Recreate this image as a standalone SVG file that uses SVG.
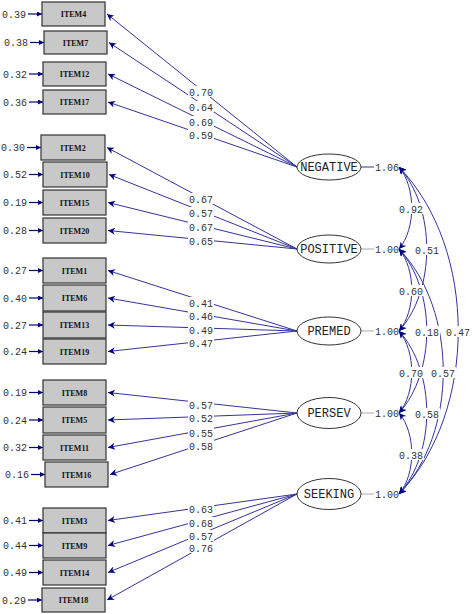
<svg xmlns="http://www.w3.org/2000/svg" width="472" height="614" viewBox="0 0 472 614">
<style>
.box{fill:#c8c8c8;stroke:#333;stroke-width:1.2}
.bt{font-family:"Liberation Serif",serif;font-size:8px;font-weight:bold;fill:#111;text-anchor:middle}
.num{font-family:"Liberation Mono",monospace;font-size:10px;fill:#333}
.lab{font-family:"Liberation Mono",monospace;font-size:10px;fill:#333;text-anchor:middle}
.fac{fill:#fff;stroke:#333;stroke-width:1}
.ft{font-family:"Liberation Mono",monospace;font-size:12px;fill:#222;text-anchor:middle}
.ln{stroke:#33339a;stroke-width:1;fill:none}
.err{stroke:#000080;stroke-width:1.2;fill:none}
.var{stroke:#aaa;stroke-width:1;fill:none}
.bg{fill:#fff}
</style>
<defs>
<marker id="ah" viewBox="0 0 10 10" refX="10" refY="5" markerWidth="9" markerHeight="7" markerUnits="userSpaceOnUse" orient="auto-start-reverse"><path d="M0,0 L10,5 L0,10 L3,5 z" fill="#000080"/></marker>
<marker id="eh" viewBox="0 0 10 10" refX="10" refY="5" markerWidth="7" markerHeight="5" markerUnits="userSpaceOnUse" orient="auto"><path d="M0,0 L10,5 L0,10 z" fill="#000080"/></marker>
</defs>
<g id="connectors">
<path class="ln" marker-end="url(#ah)" d="M297 167 L107 14"/>
<path class="ln" marker-end="url(#ah)" d="M297 167 L109 42.5"/>
<path class="ln" marker-end="url(#ah)" d="M297 167 L108 74"/>
<path class="ln" marker-end="url(#ah)" d="M297 167 L108 102"/>
<path class="ln" marker-end="url(#ah)" d="M297 249 L107 147.5"/>
<path class="ln" marker-end="url(#ah)" d="M297 249 L109 174.5"/>
<path class="ln" marker-end="url(#ah)" d="M297 249 L108 202.5"/>
<path class="ln" marker-end="url(#ah)" d="M297 249 L108 230.5"/>
<path class="ln" marker-end="url(#ah)" d="M297 331 L108 270.5"/>
<path class="ln" marker-end="url(#ah)" d="M297 331 L108 298"/>
<path class="ln" marker-end="url(#ah)" d="M297 331 L108 325"/>
<path class="ln" marker-end="url(#ah)" d="M297 331 L108 351.5"/>
<path class="ln" marker-end="url(#ah)" d="M297 413 L108 392.5"/>
<path class="ln" marker-end="url(#ah)" d="M297 413 L108 420"/>
<path class="ln" marker-end="url(#ah)" d="M297 413 L108 447.5"/>
<path class="ln" marker-end="url(#ah)" d="M297 413 L110 474.5"/>
<path class="ln" marker-end="url(#ah)" d="M297 494 L108 520.5"/>
<path class="ln" marker-end="url(#ah)" d="M297 494 L108 545.5"/>
<path class="ln" marker-end="url(#ah)" d="M297 494 L108 572.5"/>
<path class="ln" marker-end="url(#ah)" d="M297 494 L107 600"/>
<g id="loading-labels">
<rect class="bg" x="188" y="86" width="26" height="11"/><text class="lab" x="201" y="95.5">0.70</text>
<rect class="bg" x="188" y="101" width="26" height="11"/><text class="lab" x="201" y="110.5">0.64</text>
<rect class="bg" x="188" y="116" width="26" height="11"/><text class="lab" x="201" y="125.5">0.69</text>
<rect class="bg" x="188" y="129" width="26" height="11"/><text class="lab" x="201" y="138.5">0.59</text>
<rect class="bg" x="188" y="193" width="26" height="11"/><text class="lab" x="201" y="202.5">0.67</text>
<rect class="bg" x="188" y="207" width="26" height="11"/><text class="lab" x="201" y="216.5">0.57</text>
<rect class="bg" x="188" y="221" width="26" height="11"/><text class="lab" x="201" y="230.5">0.67</text>
<rect class="bg" x="188" y="235" width="26" height="11"/><text class="lab" x="201" y="244.5">0.65</text>
<rect class="bg" x="188" y="297" width="26" height="11"/><text class="lab" x="201" y="306.5">0.41</text>
<rect class="bg" x="188" y="310" width="26" height="11"/><text class="lab" x="201" y="319.5">0.46</text>
<rect class="bg" x="188" y="324" width="26" height="11"/><text class="lab" x="201" y="333.5">0.49</text>
<rect class="bg" x="188" y="337" width="26" height="11"/><text class="lab" x="201" y="346.5">0.47</text>
<rect class="bg" x="188" y="399" width="26" height="11"/><text class="lab" x="201" y="408.5">0.57</text>
<rect class="bg" x="188" y="412" width="26" height="11"/><text class="lab" x="201" y="421.5">0.52</text>
<rect class="bg" x="188" y="427" width="26" height="11"/><text class="lab" x="201" y="436.5">0.55</text>
<rect class="bg" x="188" y="440" width="26" height="11"/><text class="lab" x="201" y="449.5">0.58</text>
<rect class="bg" x="188" y="503" width="26" height="11"/><text class="lab" x="201" y="512.5">0.63</text>
<rect class="bg" x="188" y="517" width="26" height="11"/><text class="lab" x="201" y="526.5">0.68</text>
<rect class="bg" x="188" y="530" width="26" height="11"/><text class="lab" x="201" y="539.5">0.57</text>
<rect class="bg" x="188" y="542" width="26" height="11"/><text class="lab" x="201" y="551.5">0.76</text>
</g>
<g id="errors">
<path class="err" marker-end="url(#eh)" d="M28 14 H42"/><text class="num" x="2" y="17.5">0.39</text>
<path class="err" marker-end="url(#eh)" d="M30 42.5 H44"/><text class="num" x="4" y="46">0.38</text>
<path class="err" marker-end="url(#eh)" d="M29 74 H43"/><text class="num" x="3" y="77.5">0.32</text>
<path class="err" marker-end="url(#eh)" d="M29 102 H43"/><text class="num" x="3" y="105.5">0.36</text>
<path class="err" marker-end="url(#eh)" d="M27 147.5 H41"/><text class="num" x="1" y="151">0.30</text>
<path class="err" marker-end="url(#eh)" d="M29 174.5 H43"/><text class="num" x="3" y="178">0.52</text>
<path class="err" marker-end="url(#eh)" d="M29 202.5 H43"/><text class="num" x="3" y="206">0.19</text>
<path class="err" marker-end="url(#eh)" d="M29 230.5 H43"/><text class="num" x="3" y="234">0.28</text>
<path class="err" marker-end="url(#eh)" d="M29 270.5 H43"/><text class="num" x="3" y="274">0.27</text>
<path class="err" marker-end="url(#eh)" d="M29 298 H43"/><text class="num" x="3" y="301.5">0.40</text>
<path class="err" marker-end="url(#eh)" d="M29 325 H43"/><text class="num" x="3" y="328.5">0.27</text>
<path class="err" marker-end="url(#eh)" d="M29 351.5 H43"/><text class="num" x="3" y="355">0.24</text>
<path class="err" marker-end="url(#eh)" d="M29 392.5 H43"/><text class="num" x="3" y="396">0.19</text>
<path class="err" marker-end="url(#eh)" d="M29 420 H43"/><text class="num" x="3" y="423.5">0.24</text>
<path class="err" marker-end="url(#eh)" d="M29 447.5 H43"/><text class="num" x="3" y="451">0.32</text>
<path class="err" marker-end="url(#eh)" d="M31 474.5 H45"/><text class="num" x="5" y="478">0.16</text>
<path class="err" marker-end="url(#eh)" d="M29 520.5 H43"/><text class="num" x="3" y="524">0.41</text>
<path class="err" marker-end="url(#eh)" d="M29 545.5 H43"/><text class="num" x="3" y="549">0.44</text>
<path class="err" marker-end="url(#eh)" d="M29 572.5 H43"/><text class="num" x="3" y="576">0.49</text>
<path class="err" marker-end="url(#eh)" d="M28 600 H42"/><text class="num" x="2" y="603.5">0.29</text>
</g>
<g id="variances">
<path d="M361 167 H374" stroke="#33339a" stroke-width="1"/><text class="num" x="375" y="170.5">1.06</text>
<path class="var" d="M361 249 H374"/><text class="num" x="375" y="252.5">1.00</text>
<path class="var" d="M361 331 H374"/><text class="num" x="375" y="334.5">1.00</text>
<path class="var" d="M361 413 H374"/><text class="num" x="375" y="416.5">1.00</text>
<path class="var" d="M361 494 H374"/><text class="num" x="375" y="497.5">1.00</text>
</g>
<g id="covariances">
<path class="ln" marker-start="url(#ah)" marker-end="url(#ah)" d="M399 167 C416 187.5 416 228.5 399 249"/>
<path class="ln" marker-start="url(#ah)" marker-end="url(#ah)" d="M399 249 C416 269.5 416 310.5 399 331"/>
<path class="ln" marker-start="url(#ah)" marker-end="url(#ah)" d="M399 331 C416 351.5 416 392.5 399 413"/>
<path class="ln" marker-start="url(#ah)" marker-end="url(#ah)" d="M399 413 C416 433 416 474 399 494"/>
<path class="ln" marker-start="url(#ah)" marker-end="url(#ah)" d="M399 167 C436 208 436 290 399 331"/>
<path class="ln" marker-start="url(#ah)" marker-end="url(#ah)" d="M399 249 C436 290 436 372 399 413"/>
<path class="ln" marker-start="url(#ah)" marker-end="url(#ah)" d="M399 331 C436 372 436 453 399 494"/>
<path class="ln" marker-start="url(#ah)" marker-end="url(#ah)" d="M399 249 C458 310 458 433 399 494"/>
<path class="ln" marker-start="url(#ah)" marker-end="url(#ah)" d="M399 167 C478 249 478 412 399 494"/>
<rect class="bg" x="399" y="203" width="25" height="11"/><text class="lab" x="411" y="212.5">0.92</text>
<rect class="bg" x="415" y="244" width="25" height="11"/><text class="lab" x="427" y="253.5">0.51</text>
<rect class="bg" x="399" y="285" width="25" height="11"/><text class="lab" x="411" y="294.5">0.60</text>
<rect class="bg" x="415" y="326" width="25" height="11"/><text class="lab" x="427" y="335.5">0.18</text>
<rect class="bg" x="446" y="326" width="25" height="11"/><text class="lab" x="458" y="335.5">0.47</text>
<rect class="bg" x="399" y="367" width="25" height="11"/><text class="lab" x="411" y="376.5">0.70</text>
<rect class="bg" x="431" y="367" width="25" height="11"/><text class="lab" x="443" y="376.5">0.57</text>
<rect class="bg" x="415" y="408" width="25" height="11"/><text class="lab" x="427" y="417.5">0.58</text>
<rect class="bg" x="399" y="449" width="25" height="11"/><text class="lab" x="411" y="458.5">0.38</text>
</g>
</g>
<g id="NEGATIVE"><ellipse class="fac" cx="329" cy="167" rx="32" ry="13"/><text class="ft" x="329" y="171">NEGATIVE</text></g>
<g id="POSITIVE"><ellipse class="fac" cx="329" cy="249" rx="32" ry="14"/><text class="ft" x="329" y="253">POSITIVE</text></g>
<g id="PREMED"><ellipse class="fac" cx="329" cy="331" rx="32" ry="14"/><text class="ft" x="329" y="335">PREMED</text></g>
<g id="PERSEV"><ellipse class="fac" cx="329" cy="413" rx="32" ry="15.5"/><text class="ft" x="329" y="417">PERSEV</text></g>
<g id="SEEKING"><ellipse class="fac" cx="329" cy="494" rx="32" ry="15.5"/><text class="ft" x="329" y="498">SEEKING</text></g>
<g id="ITEM4"><rect class="box" x="42" y="2" width="63" height="24"/><text class="bt" x="73.5" y="17">ITEM4</text></g>
<g id="ITEM7"><rect class="box" x="44" y="31" width="63" height="23"/><text class="bt" x="75.5" y="45.5">ITEM7</text></g>
<g id="ITEM12"><rect class="box" x="43" y="62" width="63" height="24"/><text class="bt" x="74.5" y="77">ITEM12</text></g>
<g id="ITEM17"><rect class="box" x="43" y="90" width="63" height="24"/><text class="bt" x="74.5" y="105">ITEM17</text></g>
<g id="ITEM2"><rect class="box" x="41" y="135" width="64" height="25"/><text class="bt" x="73" y="150.5">ITEM2</text></g>
<g id="ITEM10"><rect class="box" x="43" y="162" width="64" height="25"/><text class="bt" x="75" y="177.5">ITEM10</text></g>
<g id="ITEM15"><rect class="box" x="43" y="190" width="63" height="25"/><text class="bt" x="74.5" y="205.5">ITEM15</text></g>
<g id="ITEM20"><rect class="box" x="43" y="218" width="63" height="25"/><text class="bt" x="74.5" y="233.5">ITEM20</text></g>
<g id="ITEM1"><rect class="box" x="43" y="258" width="63" height="25"/><text class="bt" x="74.5" y="273.5">ITEM1</text></g>
<g id="ITEM6"><rect class="box" x="43" y="285" width="63" height="26"/><text class="bt" x="74.5" y="301">ITEM6</text></g>
<g id="ITEM13"><rect class="box" x="43" y="312" width="63" height="26"/><text class="bt" x="74.5" y="328">ITEM13</text></g>
<g id="ITEM19"><rect class="box" x="43" y="339" width="63" height="25"/><text class="bt" x="74.5" y="354.5">ITEM19</text></g>
<g id="ITEM8"><rect class="box" x="43" y="380" width="63" height="25"/><text class="bt" x="74.5" y="395.5">ITEM8</text></g>
<g id="ITEM5"><rect class="box" x="43" y="407" width="63" height="26"/><text class="bt" x="74.5" y="423">ITEM5</text></g>
<g id="ITEM11"><rect class="box" x="43" y="435" width="63" height="25"/><text class="bt" x="74.5" y="450.5">ITEM11</text></g>
<g id="ITEM16"><rect class="box" x="45" y="462" width="63" height="25"/><text class="bt" x="76.5" y="477.5">ITEM16</text></g>
<g id="ITEM3"><rect class="box" x="43" y="508" width="63" height="25"/><text class="bt" x="74.5" y="523.5">ITEM3</text></g>
<g id="ITEM9"><rect class="box" x="43" y="533" width="63" height="25"/><text class="bt" x="74.5" y="548.5">ITEM9</text></g>
<g id="ITEM14"><rect class="box" x="43" y="560" width="63" height="25"/><text class="bt" x="74.5" y="575.5">ITEM14</text></g>
<g id="ITEM18"><rect class="box" x="42" y="588" width="63" height="24"/><text class="bt" x="73.5" y="603">ITEM18</text></g>
</svg>
